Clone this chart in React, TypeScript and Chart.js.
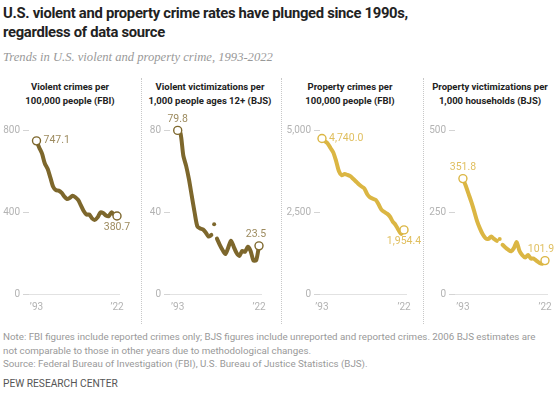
import { useEffect, useRef } from 'react';
import { Chart, registerables } from 'chart.js';
Chart.register(...registerables);

const years = [1993, 1994, 1995, 1996, 1997, 1998, 1999, 2000, 2001, 2002, 2003, 2004, 2005, 2006, 2007, 2008, 2009, 2010, 2011, 2012, 2013, 2014, 2015, 2016, 2017, 2018, 2019, 2020, 2021, 2022];

const fbiViolent = [747.1, 713.6, 684.5, 636.6, 611.0, 567.6, 523.0, 506.5, 504.5, 494.4, 475.8, 463.2, 469.0, 479.3, 471.8, 458.6, 431.9, 404.5, 387.1, 387.8, 369.1, 361.6, 373.7, 397.5, 394.9, 383.4, 379.4, 398.5, 387.0, 380.7];
const bjsViolent = [79.8, 78.5, 67.5, 62.5, 56.0, 48.0, 40.0, 33.0, 32.0, 31.5, 30.0, 28.0, 28.8, null, 27.0, 24.0, 21.5, 19.5, 22.5, 26.0, 23.0, 20.0, 18.6, 21.0, 20.6, 23.0, 21.0, 16.4, 16.5, 23.5];
const bjsViolent2006 = 34.0;
const fbiProperty = [4740.0, 4660.2, 4590.5, 4451.0, 4316.3, 4052.5, 3743.6, 3618.3, 3658.1, 3630.6, 3591.2, 3514.1, 3431.5, 3346.6, 3276.4, 3214.6, 3041.3, 2945.9, 2905.4, 2868.0, 2733.6, 2574.1, 2500.5, 2450.7, 2362.9, 2209.8, 2109.9, 1958.2, 1832.3, 1954.4];
const bjsProperty = [351.8, 330, 305, 280, 252, 222, 200, 182, 170, 168, 175, 168, 162, null, 150, 142, 135, 130, 140, 158, 131, 118, 111, 119, 108, 108, 101, 95, 92, 101.9];
const bjsProperty2006 = 168;

const xTickYears = [1993, 2022];
const yTicksFbiViolent = [0, 400, 800];
const yTicksBjsViolent = [0, 40, 80];
const yTicksFbiProperty = [0, 2500, 5000];
const yTicksBjsProperty = [0, 250, 500];

const panelTitles = [
  ['Violent crimes per', '100,000 people (FBI)'],
  ['Violent victimizations per', '1,000 people ages 12+ (BJS)'],
  ['Property crimes per', '100,000 people (FBI)'],
  ['Property victimizations per', '1,000 households (BJS)'],
];

const VIOLENT = '#7d672c';
const VIOLENT_TEXT = '#9d8b5f';
const PROPERTY = '#dbb643';
const PROPERTY_TEXT = '#e0bf5f';

const FONT = 'Roboto, "Liberation Sans", sans-serif';

const fmt = (v: number) => v.toLocaleString('en-US', { minimumFractionDigits: 1, maximumFractionDigits: 1 });

const valueLabels = {
  id: 'valueLabels',
  afterDatasetsDraw(chart: any, _args: any, opts: any) {
    const { ctx, scales } = chart;
    const x = scales.x, y = scales.y;
    (opts.items || []).forEach((it: any) => {
      const px = x.getPixelForValue(it.x);
      const py = y.getPixelForValue(it.y);
      ctx.save();
      ctx.font = '10.5px ' + FONT;
      ctx.fillStyle = opts.color;
      ctx.textBaseline = 'middle';
      if (it.pos === 'right') {
        ctx.textAlign = 'left';
        ctx.fillText(fmt(it.y), px + 7, py);
      } else if (it.pos === 'above') {
        ctx.textAlign = 'center';
        ctx.fillText(fmt(it.y), px + (it.dx || 0), py - 11);
      } else {
        ctx.textAlign = 'center';
        ctx.fillText(fmt(it.y), px + (it.dx || 0), py + 11);
      }
      ctx.restore();
    });
  },
};

type PanelCfg = {
  left: number;
  width: number;
  L: number;
  A: number;
  xmin: number;
  xmax: number;
  values: (number | null)[];
  dot2006: number | null;
  yTicks: number[];
  color: string;
  textColor: string;
  startPos: string;
  endPos: string;
  endDx?: number;
};

const CANVAS_TOP = 110;
const CANVAS_H = 210;

function Panel({ cfg }: { cfg: PanelCfg }) {
  const ref = useRef<HTMLCanvasElement>(null);
  useEffect(() => {
    const ymax = cfg.yTicks[cfg.yTicks.length - 1];
    const datasets: any[] = [
      {
        data: years.map((yr, i) => ({ x: yr, y: cfg.values[i] })),
        borderColor: cfg.color,
        borderWidth: 4,
        tension: 0.25,
        spanGaps: false,
        clip: false,
        borderCapStyle: 'round',
        borderJoinStyle: 'round',
        pointRadius: (c: any) => (c.dataIndex === 0 || c.dataIndex === years.length - 1 ? 4 : 0),
        pointBackgroundColor: '#ffffff',
        pointBorderColor: cfg.color,
        pointBorderWidth: 1.4,
        pointHoverRadius: 0,
      },
    ];
    if (cfg.dot2006 !== null) {
      datasets.push({
        data: [{ x: 2006, y: cfg.dot2006 }],
        showLine: false,
        pointRadius: 2,
        pointBackgroundColor: cfg.color,
        pointBorderWidth: 0,
        clip: false,
      });
    }
    const n = years.length - 1;
    const chart = new Chart(ref.current!, {
      type: 'line',
      data: { datasets },
      plugins: [valueLabels as any],
      options: {
        animation: false,
        responsive: false,
        events: [],
        layout: { padding: { top: 20, right: cfg.width - cfg.L - cfg.A, bottom: 0, left: 0 } },
        plugins: {
          legend: { display: false },
          tooltip: { enabled: false },
          valueLabels: {
            color: cfg.textColor,
            items: [
              { x: years[0], y: cfg.values[0], pos: cfg.startPos },
              { x: years[n], y: cfg.values[n], pos: cfg.endPos, dx: cfg.endDx || 0 },
            ],
          },
        } as any,
        scales: {
          x: {
            type: 'linear',
            position: 'bottom',
            min: cfg.xmin,
            max: cfg.xmax,
            grid: { display: false, drawTicks: false },
            border: { display: false },
            afterBuildTicks: (s: any) => {
              s.ticks = xTickYears.map((v) => ({ value: v }));
            },
            ticks: {
              callback: (v: any) => '\u2019' + String(v).slice(2),
              color: '#b3b3b3',
              font: { size: 10, family: FONT },
              padding: 7,
              minRotation: 0,
              maxRotation: 0,
              autoSkip: false,
            },
          },
          y: {
            min: 0,
            max: ymax,
            afterBuildTicks: (s: any) => {
              s.ticks = cfg.yTicks.map((v) => ({ value: v }));
            },
            afterFit: (s: any) => {
              s.width = cfg.L;
            },
            border: { display: false },
            grid: {
              drawOnChartArea: true,
              color: (c: any) => (c.tick && c.tick.value === 0 ? '#e2e2e2' : 'rgba(0,0,0,0)'),
              tickColor: '#d4d4d4',
              tickLength: 6,
              lineWidth: 1,
            },
            ticks: {
              callback: (v: any) => Number(v).toLocaleString('en-US'),
              color: '#b3b3b3',
              font: { size: 10, family: FONT },
              padding: 3,
            },
          },
        },
      } as any,
    });
    return () => chart.destroy();
  }, []);
  return (
    <canvas
      ref={ref}
      width={cfg.width}
      height={CANVAS_H}
      style={{ position: 'absolute', left: cfg.left, top: CANVAS_TOP, width: cfg.width, height: CANVAS_H }}
    />
  );
}

const panels: PanelCfg[] = [
  { left: 0, width: 150, L: 29, A: 91, xmin: 1990.3, xmax: 2023.08, values: fbiViolent, dot2006: null, yTicks: yTicksFbiViolent, color: VIOLENT, textColor: VIOLENT_TEXT, startPos: 'right', endPos: 'below' },
  { left: 140, width: 150, L: 30, A: 92, xmin: 1990.25, xmax: 2023.07, values: bjsViolent, dot2006: bjsViolent2006, yTicks: yTicksBjsViolent, color: VIOLENT, textColor: VIOLENT_TEXT, startPos: 'above', endPos: 'above', endDx: -3 },
  { left: 280, width: 150, L: 40, A: 87, xmin: 1992.3, xmax: 2023.06, values: fbiProperty, dot2006: null, yTicks: yTicksFbiProperty, color: PROPERTY, textColor: PROPERTY_TEXT, startPos: 'right', endPos: 'below' },
  { left: 420, width: 140, L: 35, A: 93, xmin: 1990.2, xmax: 2023.06, values: bjsProperty, dot2006: bjsProperty2006, yTicks: yTicksBjsProperty, color: PROPERTY, textColor: PROPERTY_TEXT, startPos: 'above', endPos: 'above', endDx: -4 },
];

export default function App() {
  return (
    <div style={{ position: 'absolute', left: 0, top: 0, width: 560, height: 394, background: '#fff', fontFamily: FONT, overflow: 'hidden' }}>
      <div style={{ position: 'absolute', left: 3, top: 4, fontSize: 14.8, lineHeight: '19px', fontWeight: 700, letterSpacing: '-0.3px', color: '#222', whiteSpace: 'nowrap' }}>
        U.S. violent and property crime rates have plunged since 1990s,
        <br />
        regardless of data source
      </div>
      <div style={{ position: 'absolute', left: 3, top: 49, fontSize: 12.6, lineHeight: '16px', fontStyle: 'italic', fontFamily: '"Liberation Serif", serif', color: '#999', whiteSpace: 'nowrap' }}>
        Trends in U.S. violent and property crime, 1993-2022
      </div>
      {panelTitles.map((t, i) => (
        <div key={i} style={{ position: 'absolute', left: i * 140, top: 80, width: 140, textAlign: 'center', fontSize: 9.5, lineHeight: '14px', fontWeight: 700, color: '#222', whiteSpace: 'nowrap' }}>
          {t[0]}
          <br />
          {t[1]}
        </div>
      ))}
      {[141, 281, 423].map((x) => (
        <div key={x} style={{ position: 'absolute', left: x, top: 78, height: 246, width: 0, borderLeft: '1px dotted #c8c8c8' }} />
      ))}
      {panels.map((p, i) => (
        <Panel key={i} cfg={p} />
      ))}
      <div style={{ position: 'absolute', left: 3, top: 330, fontSize: 9.75, lineHeight: '13.5px', color: '#999', whiteSpace: 'nowrap' }}>
        Note: FBI figures include reported crimes only; BJS figures include unreported and reported crimes. 2006 BJS estimates are
        <br />
        not comparable to those in other years due to methodological changes.
        <br />
        Source: Federal Bureau of Investigation (FBI), U.S. Bureau of Justice Statistics (BJS).
      </div>
      <div style={{ position: 'absolute', left: 3, top: 377, fontSize: 10.2, lineHeight: '14px', color: '#555', whiteSpace: 'nowrap' }}>
        PEW RESEARCH CENTER
      </div>
    </div>
  );
}
